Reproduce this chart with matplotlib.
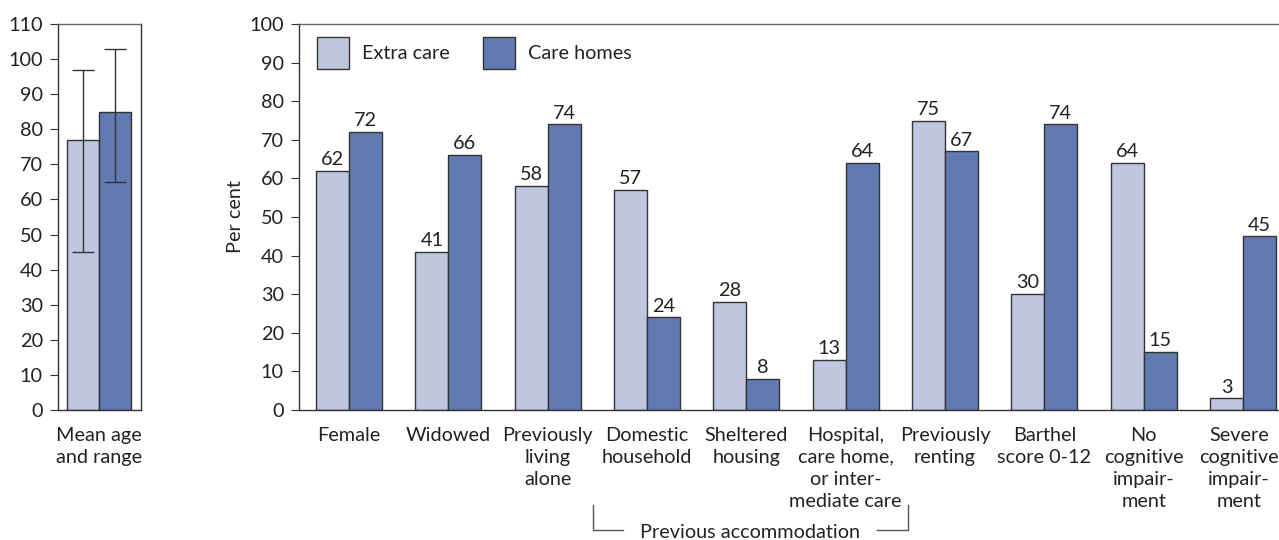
import matplotlib
matplotlib.use("Agg")
import matplotlib.pyplot as plt
import matplotlib.transforms as mtransforms
import numpy as np

plt.rcParams['font.family'] = ['Lato', 'DejaVu Sans']

categories = ["Female", "Widowed", "Previously\nliving\nalone", "Domestic\nhousehold",
              "Sheltered\nhousing", "Hospital,\ncare home,\nor inter-\nmediate care",
              "Previously\nrenting", "Barthel\nscore 0-12", "No\ncognitive\nimpair-\nment",
              "Severe\ncognitive\nimpair-\nment"]
extra_care = [62, 41, 58, 57, 28, 13, 75, 30, 64, 3]
care_homes = [72, 66, 74, 24, 8, 64, 67, 74, 15, 45]

age_label = "Mean age\nand range"
age_mean = [77, 85]
age_low = [45, 65]
age_high = [97, 103]

series_names = ["Extra care", "Care homes"]
c_light = "#BEC6E0"
c_dark = "#627AB2"
edge = "#333333"
txt = "#222222"
fs = 14.3
ls = 1.36

fig = plt.figure(figsize=(12.79, 5.4), dpi=100)
W, H = 1279, 540

def px_axes(l, r, t, b):
    return fig.add_axes([l / W, 1 - b / H, (r - l) / W, (b - t) / H])

# Left panel
ax1 = px_axes(58, 141, 24, 410)
w = 0.33
xs = [-w / 2, w / 2]
for i in range(2):
    col = c_light if i == 0 else c_dark
    ax1.bar(xs[i], age_mean[i], width=w, color=col, edgecolor=edge, linewidth=1.0, zorder=2)
    ax1.errorbar(xs[i], age_mean[i],
                 yerr=[[age_mean[i] - age_low[i]], [age_high[i] - age_mean[i]]],
                 fmt='none', ecolor=edge, elinewidth=1.0, capsize=8, capthick=1.0, zorder=3)
ax1.set_xlim(-(99 - 58) / 97, (141 - 99) / 97)
ax1.set_ylim(0, 110)
ax1.set_yticks(range(0, 111, 10))
ax1.set_xticks([0])
ax1.set_xticklabels([age_label], fontsize=fs, color=txt, linespacing=ls)
ax1.tick_params(axis='x', length=0, pad=12)
ax1.tick_params(axis='y', direction='out', length=6, labelsize=fs, labelcolor=txt, color=edge, pad=5)
for s in ax1.spines.values():
    s.set_color(edge)
    s.set_linewidth(1.0)
ax1.spines['top'].set_color("#666666")

# Main panel
ax = px_axes(299, 1279, 24, 410)
x = np.arange(len(categories))
bw = 0.332
b1 = ax.bar(x - bw / 2, extra_care, width=bw, color=c_light, edgecolor=edge, linewidth=1.0,
            label=series_names[0], zorder=2)
b2 = ax.bar(x + bw / 2, care_homes, width=bw, color=c_dark, edgecolor=edge, linewidth=1.0,
            label=series_names[1], zorder=2)
for bars, vals in ((b1, extra_care), (b2, care_homes)):
    for rect, v in zip(bars, vals):
        ax.annotate(str(v), (rect.get_x() + rect.get_width() / 2, v), xytext=(0, 2),
                    textcoords='offset points', ha='center', va='bottom', fontsize=fs, color=txt)

ax.set_xlim(-50 / 99.3, 9 + 36 / 99.3)
ax.set_ylim(0, 100)
ax.set_yticks(range(0, 101, 10))
ax.set_xticks(x)
ax.set_xticklabels(categories, fontsize=fs, color=txt, linespacing=ls, va='top')
ax.tick_params(axis='x', length=0, pad=12)
ax.tick_params(axis='y', direction='out', length=6, labelsize=fs, labelcolor=txt, color=edge, pad=5)
ax.set_ylabel("Per cent", fontsize=fs, color=txt, labelpad=4)
for s in ax.spines.values():
    s.set_color(edge)
    s.set_linewidth(1.0)
ax.spines['top'].set_color("#666666")
ax.spines['right'].set_visible(False)

# nudge last label so it stays inside the figure
last = ax.get_xticklabels()[-1]
last.set_transform(last.get_transform() + mtransforms.ScaledTranslation(-4 / 100, 0, fig.dpi_scale_trans))

leg = ax.legend(loc='upper left', bbox_to_anchor=((317 - 299) / 980, (410 - 37) / 386), ncol=2,
                frameon=False, borderpad=0, borderaxespad=0,
                fontsize=fs, handlelength=1.6, handleheight=2.1, columnspacing=1.7,
                handletextpad=0.65, labelcolor=txt)

# Bracket for previous accommodation
trans = mtransforms.blended_transform_factory(ax.transData, fig.transFigure)
yb_top = 1 - 505 / H
yb_bot = 1 - 530 / H
xl = 3 - 54 / 99.3
xr = 5 + 62 / 99.3
ax.plot([xl, xl, xl + 30 / 99.3], [yb_top, yb_bot, yb_bot], transform=trans, color="#555555",
        lw=1.0, clip_on=False)
ax.plot([xr - 31 / 99.3, xr, xr], [yb_bot, yb_bot, yb_top], transform=trans, color="#555555",
        lw=1.0, clip_on=False)
ax.text((xl + xr) / 2, 1 - 533 / H, "Previous accommodation", transform=trans, ha='center',
        va='center', fontsize=fs, color=txt)

fig.savefig("out.png", dpi=100)
